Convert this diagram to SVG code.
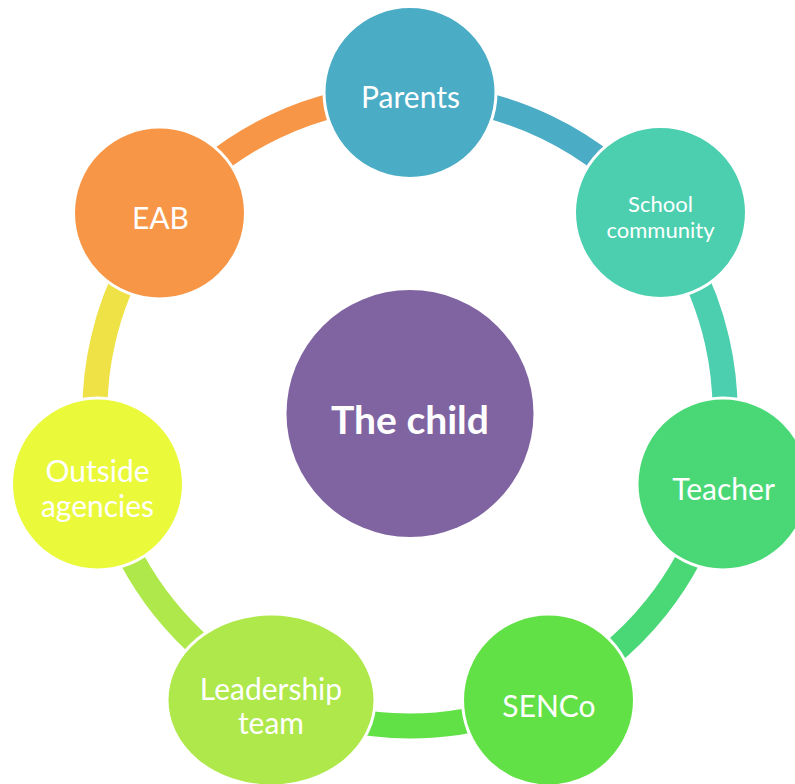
<svg xmlns="http://www.w3.org/2000/svg" width="795" height="784" viewBox="0 0 795 784">
<style>
.arc{fill:none;stroke-width:25;stroke-linecap:butt}
.node{stroke:#ffffff;stroke-width:3}
.lbl{fill:#ffffff;font-family:Lato,"Open Sans",sans-serif;font-size:30px;text-anchor:middle}
.small{font-size:22px}
.big{font-weight:bold;font-size:39px}
</style>
<rect width="795" height="784" fill="#ffffff"/>
<g id="connectors">
<path class="arc" stroke="#4BACC6" d="M410,96 A315,315 0 0 1 656.3,214.6"/>
<path class="arc" stroke="#4BCFAF" d="M656.3,214.6 A315,315 0 0 1 717.1,481.1"/>
<path class="arc" stroke="#4AD877" d="M717.1,481.1 A315,315 0 0 1 546.7,694.8"/>
<path class="arc" stroke="#62E147" d="M546.7,694.8 A315,315 0 0 1 273.3,694.8"/>
<path class="arc" stroke="#AEE84A" d="M273.3,694.8 A315,315 0 0 1 102.9,481.1"/>
<path class="arc" stroke="#EFE246" d="M102.9,481.1 A315,315 0 0 1 163.7,214.6"/>
<path class="arc" stroke="#F79646" d="M163.7,214.6 A315,315 0 0 1 410,96"/>
</g>
<g id="child">
<circle cx="410" cy="413.5" r="123.5" fill="#8064A2"/>
<text class="lbl big" x="410" y="434">The child</text>
</g>
<g id="parents">
<circle class="node" cx="410" cy="92.5" r="86" fill="#4BACC6"/>
<text class="lbl" x="410.5" y="108">Parents</text>
</g>
<g id="school-community">
<circle class="node" cx="660.5" cy="212.5" r="86" fill="#4BCFAF"/>
<text class="lbl small" x="660.5" y="212">School</text>
<text class="lbl small" x="660.5" y="238">community</text>
</g>
<g id="teacher">
<circle class="node" cx="723" cy="484" r="86" fill="#4AD877"/>
<text class="lbl" x="723.5" y="500">Teacher</text>
</g>
<g id="senco">
<circle class="node" cx="548.5" cy="700" r="86" fill="#62E147"/>
<text class="lbl" x="549" y="716.5">SENCo</text>
</g>
<g id="leadership-team">
<ellipse class="node" cx="271" cy="700" rx="104" ry="86" fill="#AEE84A"/>
<text class="lbl" x="271" y="700">Leadership</text>
<text class="lbl" x="271" y="734">team</text>
</g>
<g id="outside-agencies">
<circle class="node" cx="97.5" cy="484" r="86" fill="#EBF93B"/>
<text class="lbl" x="97.5" y="481.5">Outside</text>
<text class="lbl" x="97.5" y="516.5">agencies</text>
</g>
<g id="eab">
<circle class="node" cx="159.5" cy="213" r="86" fill="#F79646"/>
<text class="lbl" x="160.5" y="228.5">EAB</text>
</g>
</svg>
